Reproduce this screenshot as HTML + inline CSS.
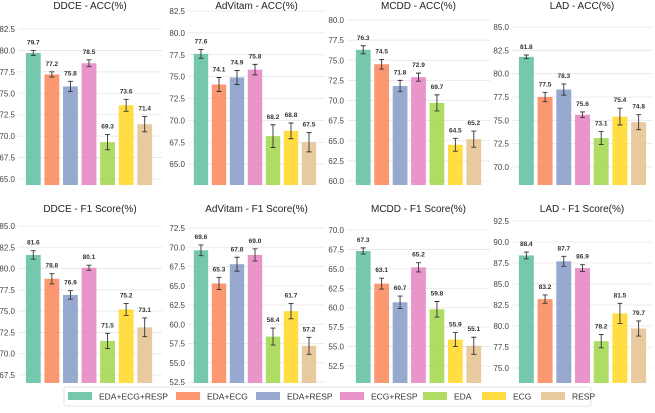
<!DOCTYPE html>
<html><head><meta charset="utf-8"><style>
body{margin:0;background:#fff;width:655px;height:408px;overflow:hidden;font-family:"Liberation Sans",sans-serif}
svg text{font-family:"Liberation Sans",sans-serif}
</style></head><body>
<svg id="c" width="655" height="408" xmlns="http://www.w3.org/2000/svg"></svg>
<script>
const categories=["EDA+ECG+RESP","EDA+ECG","EDA+RESP","ECG+RESP","EDA","ECG","RESP"];
const colors=["#66c2a5","#fc8d62","#8da0cb","#e78ac3","#a6d854","#ffd92f","#e5c494"];
const titles=["DDCE - ACC(%)","AdVitam - ACC(%)","MCDD - ACC(%)","LAD - ACC(%)","DDCE - F1 Score(%)","AdVitam - F1 Score(%)","MCDD - F1 Score(%)","LAD - F1 Score(%)"];
const valDdceAcc=[79.7,77.2,75.8,78.5,69.3,73.6,71.4];
const valAdvAcc=[77.6,74.1,74.9,75.8,68.2,68.8,67.5];
const valMcddAcc=[76.3,74.5,71.8,72.9,69.7,64.5,65.2];
const valLadAcc=[81.8,77.5,78.3,75.6,73.1,75.4,74.8];
const valDdceF1=[81.6,78.8,76.9,80.1,71.5,75.2,73.1];
const valAdvF1=[69.6,65.3,67.8,69.0,58.4,61.7,57.2];
const valMcddF1=[67.3,63.1,60.7,65.2,59.8,55.9,55.1];
const valLadF1=[88.4,83.2,87.7,86.9,78.2,81.5,79.7];
const errDdceAcc=[0.3,0.3,0.6,0.4,0.9,0.7,0.9];
const errAdvAcc=[0.5,0.8,0.8,0.6,1.3,0.9,1.1];
const errMcddAcc=[0.5,0.6,0.7,0.5,1.0,0.8,1.0];
const errLadAcc=[0.2,0.5,0.6,0.3,0.7,0.9,0.8];
const errDdceF1=[0.5,0.6,0.5,0.3,0.9,0.7,1.1];
const errAdvF1=[0.7,0.8,0.9,0.8,1.1,1.0,1.1];
const errMcddF1=[0.4,0.7,0.8,0.6,1.0,0.9,1.1];
const errLadF1=[0.4,0.5,0.6,0.4,0.8,1.2,0.9];
const ticksDdceAcc=[65.0,67.5,70.0,72.5,75.0,77.5,80.0,82.5];
const ticksAdvAcc=[62.5,65.0,67.5,70.0,72.5,75.0,77.5,80.0,82.5];
const ticksMcddAcc=[60.0,62.5,65.0,67.5,70.0,72.5,75.0,77.5,80.0];
const ticksLadAcc=[70.0,72.5,75.0,77.5,80.0,82.5,85.0];
const ticksDdceF1=[67.5,70.0,72.5,75.0,77.5,80.0,82.5,85.0];
const ticksAdvF1=[52.5,55.0,57.5,60.0,62.5,65.0,67.5,70.0,72.5];
const ticksMcddF1=[52.5,55.0,57.5,60.0,62.5,65.0,67.5,70.0];
const ticksLadF1=[75.0,77.5,80.0,82.5,85.0,87.5,90.0,92.5];
const values=[valDdceAcc,valAdvAcc,valMcddAcc,valLadAcc,valDdceF1,valAdvF1,valMcddF1,valLadF1];
const errs=[errDdceAcc,errAdvAcc,errMcddAcc,errLadAcc,errDdceF1,errAdvF1,errMcddF1,errLadF1];
const ticks=[ticksDdceAcc,ticksAdvAcc,ticksMcddAcc,ticksLadAcc,ticksDdceF1,ticksAdvF1,ticksMcddF1,ticksLadF1];
// layout: [barsX0, barsX1, plotX0, plotX1, top, bottom, tickA value, tickA y, tickB value, tickB y]
const layout=[
 [24,154,18,162,10,185,82.5,29,65.0,179],
 [192,318,188,325,10,185,82.5,11,62.5,186],
 [354,483,347,490,10,185,80.0,20,60.0,181],
 [517,648,512,652,10,185,85.0,27,70.0,167],
 [24,154,18,162,213,383,85.0,226,67.5,375],
 [192,318,188,325,213,383,72.5,228,52.5,382],
 [354,483,347,490,213,383,70.0,230,52.5,366],
 [517,648,512,652,213,383,92.5,221,75.0,368]];
const svg=document.getElementById('c');
const NS="http://www.w3.org/2000/svg";
function mk(t,a,p){const e=document.createElementNS(NS,t);for(const k in a)e.setAttribute(k,a[k]);(p||svg).appendChild(e);return e;}
for(let p=0;p<8;p++){
 const L=layout[p];
 const g=mk('g',{});
 
 
 const y=v=>L[7]+(v-L[6])*(L[9]-L[7])/(L[8]-L[6]);
 const base=L[5];
 ticks[p].forEach(t=>{
  const yy=y(t); if(yy<L[4]||yy>base)return;
  const gl=mk('line',{x1:L[2],x2:L[3],y1:yy,y2:yy,stroke:'#e6e6e6','stroke-width':0.8},g);
  
  
  const tx=mk('text',{x:L[2]-3,y:yy+3,'font-size':8,'text-anchor':'end',fill:'#444'},g);
  tx.textContent=t.toFixed(1);
  
  
 });
 const tt=mk('text',{x:(L[2]+L[3])/2,y:L[4]-1,'font-size':10,'text-anchor':'middle',fill:'#222'},g);
 tt.textContent=titles[p];
 
 
 const step=(L[1]-L[0])/7, bw=step*0.8;
 values[p].forEach((v,i)=>{
  const cx=L[0]+step*(i+0.5), yt=y(v), e=errs[p][i];
  const r=mk('rect',{x:cx-bw/2,y:yt,width:bw,height:base-yt,fill:colors[i],opacity:0.9},g);
  
  
  const y1=y(v+e),y2=y(v-e);
  const eb=mk('path',{d:`M${cx},${y1}V${y2}M${cx-2.5},${y1}H${cx+2.5}M${cx-2.5},${y2}H${cx+2.5}`,stroke:'#333','stroke-width':0.9,fill:'none'},g);
  
  
  const lb=mk('text',{x:cx,y:y1-6,'font-size':6.5,'font-weight':'bold','text-anchor':'middle',fill:'#333'},g);
  lb.textContent=v.toFixed(1);
  
  
 });
}
const lg=mk('g',{});


mk('rect',{x:64,y:387,width:527,height:19,fill:'#fff',stroke:'#ddd','stroke-width':0.8,rx:2},lg);
const lx=[68,176,256,340,423,482,541];
categories.forEach((c,i)=>{
 const e=mk('g',{},lg);
 
 
 mk('rect',{x:lx[i],y:392,width:24,height:8,fill:colors[i],opacity:0.9},e);
 const t=mk('text',{x:lx[i]+31,y:399.5,'font-size':8.5,fill:'#333'},e);
 t.textContent=c;
});
</script>
</body></html>
